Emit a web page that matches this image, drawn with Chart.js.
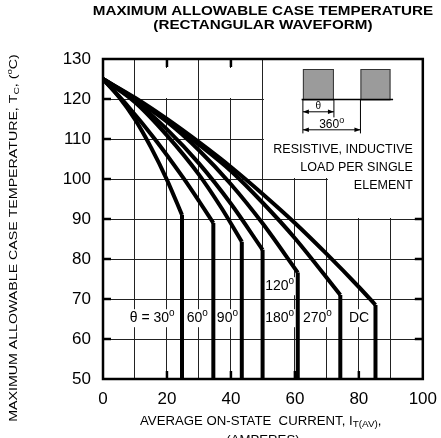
<!DOCTYPE html>
<html lang="en">
<head>
<meta charset="UTF-8">
<title>Maximum Allowable Case Temperature</title>
<script src="https://cdn.jsdelivr.net/npm/chart.js"></script>
<style>
  html, body { margin: 0; padding: 0; background: #fff; overflow: hidden; }
  #chartContainer { width: 441px; height: 438px; overflow: hidden; }
</style>
</head>
<body>
<div id="chartContainer">
  <!-- canvas is a bit wider than the window so the "100" label overhang doesn't shrink the plot -->
  <canvas id="myChart" width="447" height="438"></canvas>
</div>
<script>
  // values: I_T(AV) in amperes, T_C in degC
  // last point of each curve is the vertical drop to the bottom of the plot
  const angleNames = ['30°', '60°', '90°', '120°', '180°', '270°', 'DC'];

  const current30 = [0, 5, 10, 15, 20, 24.7, 24.7];
  const temp30    = [125, 120.5, 114.9, 107.9, 99.8, 91, 50];

  const current60 = [0, 8, 16, 25, 30, 34.5, 34.5];
  const temp60    = [125, 118, 110.2, 100.4, 94.5, 89, 50];

  const current90 = [0, 10, 20, 30, 37, 43.4, 43.4];
  const temp90    = [125, 119.2, 110.9, 101.1, 92.8, 84.3, 50];

  const current120 = [0, 10, 20, 30, 40, 49.9, 49.9];
  const temp120    = [125, 119.5, 112.4, 103.9, 93.8, 82.3, 50];

  const current180 = [0, 10, 20, 30, 40, 50, 60.9, 60.9];
  const temp180    = [125, 119.9, 114.3, 107.2, 98.7, 88.8, 76.6, 50];

  const current270 = [0, 10, 20, 30, 40, 50, 60, 74.2, 74.2];
  const temp270    = [125, 120.1, 114.6, 108.6, 102, 94, 85.2, 71, 50];

  const currentDC = [0, 10, 20, 30, 40, 50, 60, 70, 80, 85.2, 85.2];
  const tempDC    = [125, 120.3, 115, 109.2, 103, 96.2, 89, 81.2, 73, 68.5, 50];

  const xTicks = [0, 20, 40, 60, 80, 100];
  const yTicks = [50, 60, 70, 80, 90, 100, 110, 120, 130];

  const allCurrents = [current30, current60, current90, current120, current180, current270, currentDC];
  const allTemps = [temp30, temp60, temp90, temp120, temp180, temp270, tempDC];

  const FONT = '"Liberation Sans", Arial, Helvetica, sans-serif';

  // each curve = smooth part + straight vertical drop
  const datasets = [];
  allCurrents.forEach((xs, i) => {
    const ys = allTemps[i];
    const pts = xs.map((x, k) => ({ x: x, y: ys[k] }));
    datasets.push({
      label: angleNames[i],
      data: pts.slice(0, pts.length - 1),
      borderColor: '#000',
      borderWidth: 4,
      pointRadius: 0,
      showLine: true,
      fill: false,
      cubicInterpolationMode: 'monotone'
    });
    datasets.push({
      label: angleNames[i] + ' drop',
      data: pts.slice(pts.length - 2),
      borderColor: '#000',
      borderWidth: 4,
      borderCapStyle: 'butt',
      pointRadius: 0,
      showLine: true,
      fill: false,
      tension: 0
    });
  });

  // text made of pieces (for sub/superscripts); parts = [text, font, dy]
  function measureParts(ctx, parts) {
    let w = 0;
    parts.forEach(p => { ctx.font = p[1]; w += ctx.measureText(p[0]).width; });
    return w;
  }

  function richText(ctx, parts, x, y, align) {
    const w = measureParts(ctx, parts);
    const left = align === 'center' ? x - w / 2 : (align === 'right' ? x - w : x);
    let cx = left;
    ctx.textAlign = 'left';
    ctx.textBaseline = 'middle';
    parts.forEach(p => {
      ctx.font = p[1];
      ctx.fillText(p[0], cx, y + (p[2] || 0));
      cx += ctx.measureText(p[0]).width;
    });
    return { left: left, width: w };
  }

  function arrowHead(ctx, x, y, dir) {
    ctx.beginPath();
    ctx.moveTo(x, y);
    ctx.lineTo(x - dir * 6, y - 2.2);
    ctx.lineTo(x - dir * 6, y + 2.2);
    ctx.closePath();
    ctx.fill();
  }

  const curveLabels = [
    // [parts, x value, y value, align]
    [[['θ = 30', '14px ' + FONT], ['o', '10px ' + FONT, -5]], 22.4, 65.2, 'right'],
    [[['60', '14px ' + FONT], ['o', '10px ' + FONT, -5]], 26.2, 65.2, 'left'],
    [[['90', '14px ' + FONT], ['o', '10px ' + FONT, -5]], 35.6, 65.2, 'left'],
    [[['120', '14px ' + FONT], ['o', '10px ' + FONT, -5]], 50.7, 73.2, 'left'],
    [[['180', '14px ' + FONT], ['o', '10px ' + FONT, -5]], 50.7, 65.2, 'left'],
    [[['270', '14px ' + FONT], ['o', '10px ' + FONT, -5]], 62.5, 65.2, 'left'],
    [[['DC', '14px ' + FONT]], 76.9, 65.2, 'left']
  ];

  const decorPlugin = {
    id: 'decor',
    beforeDatasetsDraw(chart) {
      const ctx = chart.ctx;
      const xs = chart.scales.x, ys = chart.scales.y;
      const X = v => xs.getPixelForValue(v), Y = v => ys.getPixelForValue(v);
      const a = chart.chartArea;
      ctx.save();
      ctx.fillStyle = '#fff';
      // panel for the waveform note hides the grid behind it
      ctx.fillRect(X(50) + 1, a.top, a.right - X(50), Y(100) - 1 - a.top);
      ctx.fillRect(X(70) + 1, Y(100) - 2, a.right - X(70), Y(90) - Y(100) + 1);
      // top row has no lines at 20 and 40, only ticks
      [20, 40].forEach(v => ctx.fillRect(X(v) - 1.5, a.top + 9, 3, Y(120) - a.top - 10));

      // curve labels sit on white
      curveLabels.forEach(l => {
        const w = measureParts(ctx, l[0]);
        const left = l[3] === 'right' ? X(l[1]) - w : X(l[1]);
        ctx.fillStyle = '#fff';
        ctx.fillRect(left - 1, Y(l[2]) - 9, w + 2, 18);
        ctx.fillStyle = '#000';
        richText(ctx, l[0], X(l[1]), Y(l[2]), l[3]);
      });

      // waveform sketch
      ctx.fillStyle = '#9b9b9b';
      ctx.strokeStyle = '#333';
      ctx.lineWidth = 1;
      [[62.5, 72.2], [80.5, 89.9]].forEach(r => {
        ctx.fillRect(X(r[0]), Y(127.5), X(r[1]) - X(r[0]), Y(119.9) - Y(127.5));
        ctx.strokeRect(X(r[0]) + 0.5, Y(127.5) + 0.5, X(r[1]) - X(r[0]) - 1, Y(119.9) - Y(127.5));
      });
      ctx.strokeStyle = '#000';
      ctx.lineWidth = 1.5;
      ctx.beginPath();
      ctx.moveTo(X(62.1), Y(119.9)); ctx.lineTo(X(90.7), Y(119.9));
      ctx.stroke();
      ctx.lineWidth = 1;
      ctx.beginPath();
      ctx.moveTo(X(62.5), Y(119.9)); ctx.lineTo(X(62.5), Y(111.4));
      ctx.moveTo(X(72.2), Y(119.9)); ctx.lineTo(X(72.2), Y(115.4));
      ctx.moveTo(X(80.5), Y(119.9)); ctx.lineTo(X(80.5), Y(111.4));
      ctx.moveTo(X(62.5), Y(116.8)); ctx.lineTo(X(72.2), Y(116.8));
      ctx.moveTo(X(62.5), Y(112.3)); ctx.lineTo(X(80.5), Y(112.3));
      ctx.stroke();
      ctx.fillStyle = '#000';
      arrowHead(ctx, X(62.5), Y(116.8), -1);
      arrowHead(ctx, X(72.2), Y(116.8), 1);
      arrowHead(ctx, X(62.5), Y(112.3), -1);
      arrowHead(ctx, X(80.5), Y(112.3), 1);
      richText(ctx, [['θ', '10px ' + FONT]], X(67.3), Y(118.3), 'center');
      richText(ctx, [['360', '12px ' + FONT], ['o', '9px ' + FONT, -4]], X(71.5), Y(113.6), 'center');

      ctx.font = '12.5px ' + FONT;
      ctx.textAlign = 'right';
      ctx.textBaseline = 'middle';
      ctx.fillText('RESISTIVE, INDUCTIVE', X(96.9), Y(107.3));
      ctx.fillText('LOAD PER SINGLE', X(96.9), Y(102.9));
      ctx.fillText('ELEMENT', X(96.9), Y(98.3));
      ctx.restore();
    },
    afterDraw(chart) {
      const ctx = chart.ctx;
      const xs = chart.scales.x, ys = chart.scales.y;
      const X = v => xs.getPixelForValue(v), Y = v => ys.getPixelForValue(v);
      const a = chart.chartArea;
      ctx.save();
      ctx.strokeStyle = '#000';
      // frame
      ctx.lineWidth = 2.5;
      ctx.strokeRect(a.left, a.top, a.right - a.left, a.bottom - a.top);
      // inward ticks
      ctx.beginPath();
      [60, 70, 80, 90, 100, 110, 120].forEach(v => {
        ctx.moveTo(a.left, Y(v)); ctx.lineTo(a.left + 8, Y(v));
      });
      [60, 70, 80, 90].forEach(v => {
        ctx.moveTo(a.right, Y(v)); ctx.lineTo(a.right - 8, Y(v));
      });
      [20, 40, 60, 80].forEach(v => {
        ctx.moveTo(X(v), a.bottom); ctx.lineTo(X(v), a.bottom - 8);
      });
      [20, 40].forEach(v => {
        ctx.moveTo(X(v), a.top); ctx.lineTo(X(v), a.top + 8);
      });
      ctx.stroke();

      ctx.fillStyle = '#000';
      const cx = (a.left + a.right) / 2;
      // title, drawn a little wide like the original
      ctx.save();
      ctx.font = 'bold 13px ' + FONT;
      ctx.textAlign = 'center';
      ctx.textBaseline = 'middle';
      ctx.translate(cx, 0);
      ctx.scale(1.17, 1);
      ctx.fillText('MAXIMUM ALLOWABLE CASE TEMPERATURE', 0, 11.5);
      ctx.fillText('(RECTANGULAR WAVEFORM)', 0, 25.5);
      ctx.restore();

      // x axis title
      ctx.save();
      ctx.translate(140, 421.5);
      ctx.scale(1.1, 1);
      richText(ctx, [
        ['AVERAGE ON-STATE  CURRENT, I', '12px ' + FONT],
        ['T(AV)', '9px ' + FONT, 3],
        [',', '12px ' + FONT]
      ], 0, 0, 'left');
      ctx.restore();
      ctx.save();
      ctx.translate(cx, 440.5);
      ctx.scale(1.1, 1);
      ctx.font = '12px ' + FONT;
      ctx.textAlign = 'center';
      ctx.textBaseline = 'middle';
      ctx.fillText('(AMPERES)', 0, 0);
      ctx.restore();

      // y axis title
      ctx.save();
      ctx.translate(14, 238);
      ctx.rotate(-Math.PI / 2);
      ctx.scale(1.29, 1);
      richText(ctx, [
        ['MAXIMUM ALLOWABLE CASE TEMPERATURE, T', '11px ' + FONT],
        ['C', '8px ' + FONT, 3],
        [', (', '11px ' + FONT],
        ['o', '7.5px ' + FONT, -4],
        ['C)', '11px ' + FONT]
      ], 0, 0, 'center');
      ctx.restore();
      ctx.restore();
    }
  };

  const ctx = document.getElementById('myChart').getContext('2d');
  const chart = new Chart(ctx, {
    type: 'scatter',
    data: { datasets: datasets },
    options: {
      responsive: false,
      animation: false,
      devicePixelRatio: 1,
      layout: { padding: { left: 0, right: 0, top: 59, bottom: 0 } },
      plugins: {
        legend: { display: false },
        tooltip: { enabled: false },
        title: { display: false }
      },
      scales: {
        x: {
          type: 'linear',
          min: 0,
          max: 100,
          afterFit: s => { s.height = 59; },
          afterBuildTicks: s => {
            const t = [];
            for (let v = 0; v <= 100; v += 10) t.push({ value: v });
            s.ticks = t;
          },
          ticks: {
            autoSkip: false,
            maxRotation: 0,
            padding: 10,
            color: '#000',
            font: { family: FONT, size: 17 },
            callback: v => xTicks.includes(v) ? String(v) : ''
          },
          grid: { color: '#222', lineWidth: 1, drawTicks: false },
          border: { display: false }
        },
        y: {
          type: 'linear',
          min: 50,
          max: 130,
          afterFit: s => { s.width = 103; },
          afterBuildTicks: s => { s.ticks = yTicks.map(v => ({ value: v })); },
          ticks: {
            padding: 12,
            color: '#000',
            font: { family: FONT, size: 17 }
          },
          grid: { color: '#222', lineWidth: 1, drawTicks: false },
          border: { display: false }
        }
      }
    },
    plugins: [decorPlugin]
  });
</script>
</body>
</html>
